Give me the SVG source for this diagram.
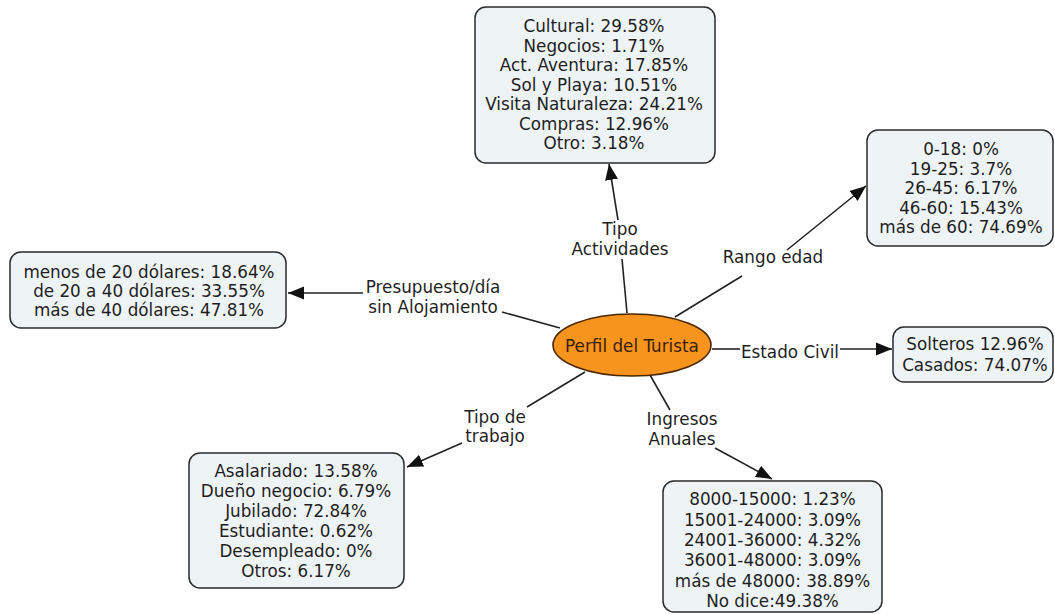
<svg xmlns="http://www.w3.org/2000/svg" width="1055" height="614" viewBox="0 0 1055 614">
<style>
.box{fill:#eef3f6;stroke:#2b2b2b;stroke-width:1.5}
.t{font-family:"DejaVu Sans",Verdana,sans-serif;font-size:16.8px;fill:#1e1e1e;text-anchor:middle}
.lbl{font-family:"DejaVu Sans",Verdana,sans-serif;font-size:16.8px;fill:#1e1e1e;text-anchor:middle}
.c{stroke:#222;stroke-width:1.6;fill:none}
.ca{stroke:#222;stroke-width:1.6;fill:none;marker-end:url(#ah)}
</style>
<defs>
<marker id="ah" markerUnits="userSpaceOnUse" markerWidth="17" markerHeight="15" refX="16" refY="7.5" orient="auto">
<path d="M0,1 L16,7.5 L0,14 Z" fill="#111"/>
</marker>
</defs>
<rect width="1055" height="614" fill="#ffffff"/>
<g id="connectors">
<line class="c" x1="627" y1="313" x2="622" y2="259"/>
<line class="ca" x1="618" y1="220" x2="609" y2="164"/>
<line class="c" x1="675" y1="317" x2="742" y2="276"/>
<line class="ca" x1="787" y1="250" x2="866" y2="186"/>
<line class="c" x1="560" y1="328" x2="502" y2="312"/>
<line class="ca" x1="363" y1="293" x2="288" y2="293"/>
<line class="c" x1="712" y1="349" x2="740" y2="349"/>
<line class="ca" x1="840" y1="349" x2="892" y2="349"/>
<line class="c" x1="585" y1="372" x2="527" y2="407"/>
<line class="ca" x1="462" y1="443" x2="407" y2="467"/>
<line class="c" x1="650" y1="375" x2="670" y2="410"/>
<line class="ca" x1="715" y1="448" x2="772" y2="479"/>
<text class="lbl" x="620" y="235">Tipo</text>
<text class="lbl" x="620" y="255">Actividades</text>
<text class="lbl" x="773" y="263">Rango edad</text>
<text class="lbl" x="433" y="293">Presupuesto/día</text>
<text class="lbl" x="433" y="313">sin Alojamiento</text>
<text class="lbl" x="790" y="358">Estado Civil</text>
<text class="lbl" x="495" y="423">Tipo de</text>
<text class="lbl" x="495" y="442">trabajo</text>
<text class="lbl" x="682" y="425">Ingresos</text>
<text class="lbl" x="682" y="445">Anuales</text>
</g>
<g id="perfil">
<ellipse cx="632" cy="345" rx="79" ry="31" fill="#f7941d" stroke="#4a2800" stroke-width="1.6"/>
<text x="632" y="352" font-family="'DejaVu Sans',Verdana,sans-serif" font-size="16.8" fill="#3a1e00" text-anchor="middle">Perfil del Turista</text>
</g>
<g id="actividades">
<rect class="box" x="475" y="7" width="240" height="156" rx="11"/>
<text class="t" x="594" y="32">Cultural: 29.58%</text>
<text class="t" x="594" y="51.5">Negocios: 1.71%</text>
<text class="t" x="594" y="71">Act. Aventura: 17.85%</text>
<text class="t" x="594" y="90.5">Sol y Playa: 10.51%</text>
<text class="t" x="594" y="110">Visita Naturaleza: 24.21%</text>
<text class="t" x="594" y="129.5">Compras: 12.96%</text>
<text class="t" x="594" y="149">Otro: 3.18%</text>
</g>
<g id="edad">
<rect class="box" x="867" y="130" width="186" height="116" rx="11"/>
<text class="t" x="961" y="155">0-18: 0%</text>
<text class="t" x="961" y="174.5">19-25: 3.7%</text>
<text class="t" x="961" y="194">26-45: 6.17%</text>
<text class="t" x="961" y="213.5">46-60: 15.43%</text>
<text class="t" x="961" y="233">más de 60: 74.69%</text>
</g>
<g id="presupuesto">
<rect class="box" x="10" y="252" width="276" height="76" rx="11"/>
<text class="t" x="149" y="278">menos de 20 dólares: 18.64%</text>
<text class="t" x="149" y="297">de 20 a 40 dólares: 33.55%</text>
<text class="t" x="149" y="316">más de 40 dólares: 47.81%</text>
</g>
<g id="civil">
<rect class="box" x="893" y="327" width="160" height="55" rx="11"/>
<text class="t" x="975" y="350">Solteros 12.96%</text>
<text class="t" x="975" y="371">Casados: 74.07%</text>
</g>
<g id="trabajo">
<rect class="box" x="189" y="453" width="215" height="135" rx="11"/>
<text class="t" x="296" y="477">Asalariado: 13.58%</text>
<text class="t" x="296" y="497">Dueño negocio: 6.79%</text>
<text class="t" x="296" y="517">Jubilado: 72.84%</text>
<text class="t" x="296" y="537">Estudiante: 0.62%</text>
<text class="t" x="296" y="557">Desempleado: 0%</text>
<text class="t" x="296" y="577">Otros: 6.17%</text>
</g>
<g id="ingresos">
<rect class="box" x="663" y="481" width="219" height="131" rx="11"/>
<text class="t" x="772.5" y="505">8000-15000: 1.23%</text>
<text class="t" x="772.5" y="525.5">15001-24000: 3.09%</text>
<text class="t" x="772.5" y="546">24001-36000: 4.32%</text>
<text class="t" x="772.5" y="566">36001-48000: 3.09%</text>
<text class="t" x="772.5" y="586.5">más de 48000: 38.89%</text>
<text class="t" x="772.5" y="607">No dice:49.38%</text>
</g>
</svg>
